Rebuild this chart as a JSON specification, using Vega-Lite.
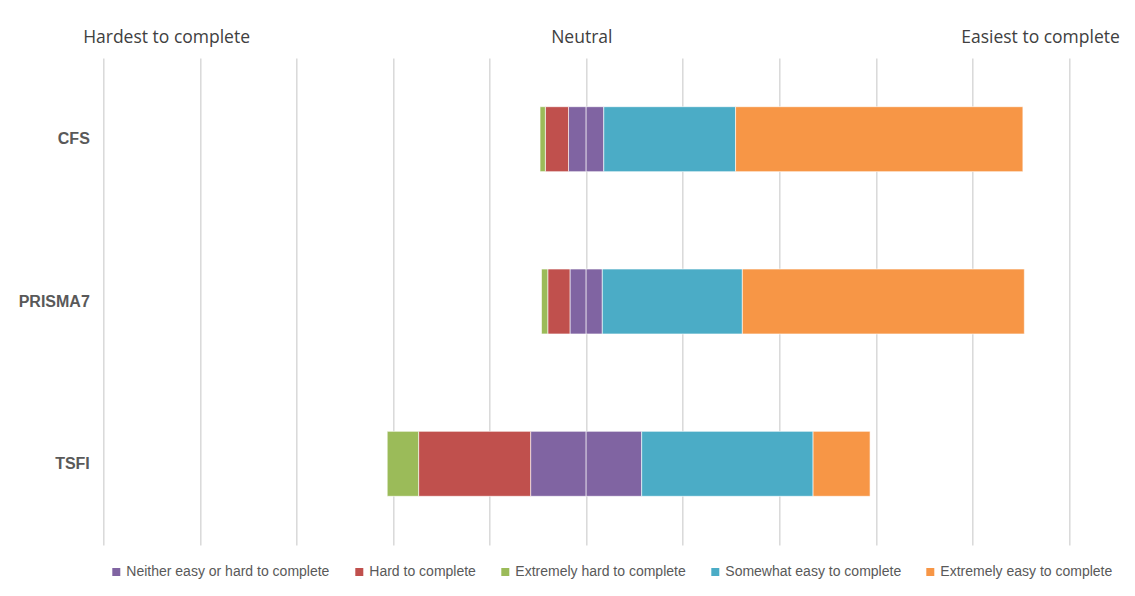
{
  "$schema": "https://vega.github.io/schema/vega-lite/v6.json",
  "width": 965.7,
  "height": 487,
  "autosize": {"type": "none"},
  "padding": {"left": 103.3, "top": 58, "right": 66, "bottom": 51},
  "background": "white",
  "data": {
    "values": [
      {"measure": "CFS", "response": "Neither easy or hard to complete", "value": -3.65},
      {"measure": "CFS", "response": "Neither easy or hard to complete", "value": 3.65},
      {"measure": "CFS", "response": "Hard to complete", "value": -4.8},
      {"measure": "CFS", "response": "Extremely hard to complete", "value": -1.1},
      {"measure": "CFS", "response": "Somewhat easy to complete", "value": 27.3},
      {"measure": "CFS", "response": "Extremely easy to complete", "value": 59.5},
      {"measure": "PRISMA7", "response": "Neither easy or hard to complete", "value": -3.35},
      {"measure": "PRISMA7", "response": "Neither easy or hard to complete", "value": 3.35},
      {"measure": "PRISMA7", "response": "Hard to complete", "value": -4.6},
      {"measure": "PRISMA7", "response": "Extremely hard to complete", "value": -1.3},
      {"measure": "PRISMA7", "response": "Somewhat easy to complete", "value": 29.0},
      {"measure": "PRISMA7", "response": "Extremely easy to complete", "value": 58.4},
      {"measure": "TSFI", "response": "Neither easy or hard to complete", "value": -11.5},
      {"measure": "TSFI", "response": "Neither easy or hard to complete", "value": 11.5},
      {"measure": "TSFI", "response": "Hard to complete", "value": -23.2},
      {"measure": "TSFI", "response": "Extremely hard to complete", "value": -6.5},
      {"measure": "TSFI", "response": "Somewhat easy to complete", "value": 35.5},
      {"measure": "TSFI", "response": "Extremely easy to complete", "value": 11.8}
    ]
  },
  "transform": [
    {"calculate": "indexof(['Neither easy or hard to complete','Hard to complete','Extremely hard to complete','Somewhat easy to complete','Extremely easy to complete'], datum.response)", "as": "rank"}
  ],
  "mark": {"type": "bar", "stroke": "white", "strokeWidth": 1, "strokeOpacity": 0.6},
  "encoding": {
    "y": {
      "field": "measure",
      "type": "nominal",
      "sort": ["CFS", "PRISMA7", "TSFI"],
      "scale": {"paddingInner": 0.6, "paddingOuter": 0.3},
      "axis": {
        "title": null,
        "ticks": false,
        "domain": false,
        "grid": false,
        "labelFont": "Liberation Sans",
        "labelFontWeight": "bold",
        "labelFontSize": 16,
        "labelColor": "#595959",
        "labelPadding": 14
      }
    },
    "x": {
      "field": "value",
      "type": "quantitative",
      "stack": "zero",
      "scale": {"domain": [-100, 100], "nice": false, "zero": false},
      "axis": {
        "orient": "top",
        "title": null,
        "values": [-100, -87, -80, -60, -40, -20, -1, 0, 20, 40, 60, 80, 94, 100],
        "labelExpr": "datum.value == -87 ? 'Hardest to complete' : datum.value == -1 ? 'Neutral' : datum.value == 94 ? 'Easiest to complete' : ''",
        "labelOverlap": false,
        "labelFlush": false,
        "labelBound": false,
        "ticks": false,
        "domain": false,
        "grid": true,
        "gridColor": "#d9d9d9",
        "gridWidth": 1.5,
        "gridOpacity": {"condition": {"test": "datum.value % 20 == 0", "value": 1}, "value": 0},
        "labelFont": "Open Sans",
        "labelFontSize": 17.5,
        "labelColor": "#404040",
        "labelPadding": 12
      }
    },
    "color": {
      "field": "response",
      "type": "nominal",
      "scale": {
        "domain": ["Neither easy or hard to complete", "Hard to complete", "Extremely hard to complete", "Somewhat easy to complete", "Extremely easy to complete"],
        "range": ["#8064A2", "#C0504D", "#9BBB59", "#4BACC6", "#F79646"]
      },
      "legend": {
        "title": null,
        "orient": "none",
        "legendX": 6,
        "legendY": 507,
        "direction": "horizontal",
        "columns": 5,
        "symbolType": "square",
        "symbolSize": 64,
        "symbolStrokeWidth": 0,
        "labelFont": "Liberation Sans",
        "labelFontSize": 14,
        "labelLimit": 0,
        "labelColor": "#595959",
        "columnPadding": 22,
        "labelOffset": 3,
        "padding": 0
      }
    },
    "order": {"field": "rank", "type": "quantitative", "sort": "ascending"}
  },
  "config": {"view": {"stroke": null}}
}
